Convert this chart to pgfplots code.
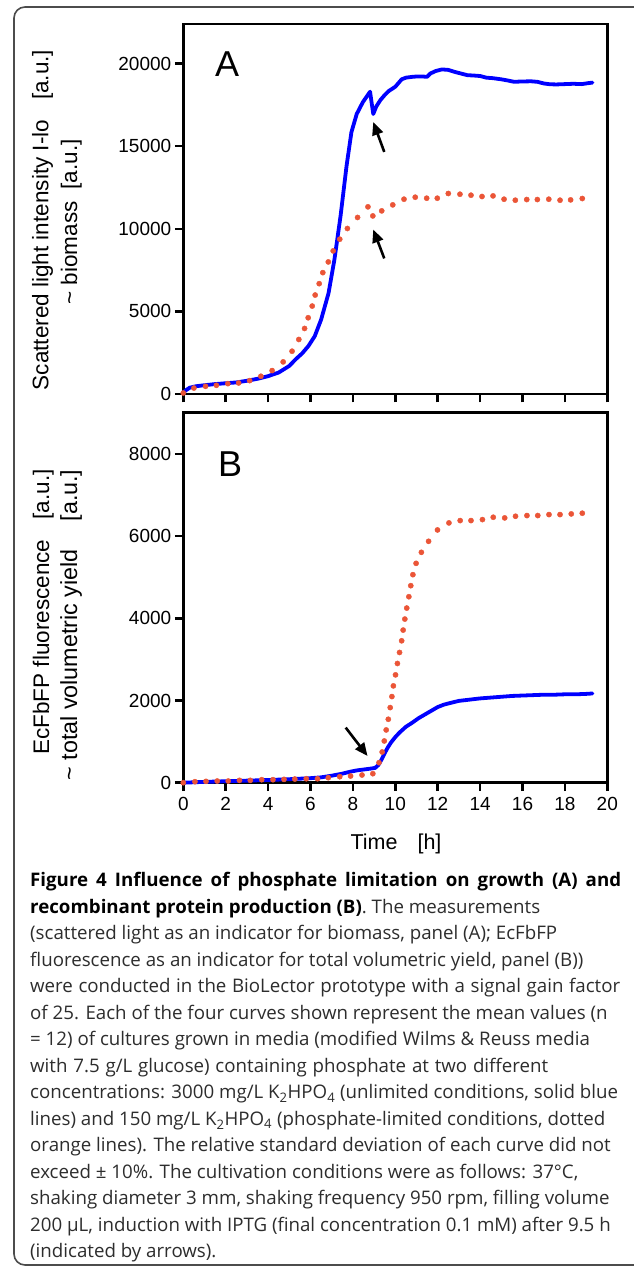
\documentclass[border=0pt]{standalone}
\usepackage{fontspec}
\setmainfont{Liberation Sans}
\newfontfamily\capfont{Open Sans}
\usepackage{pgfplots}
\pgfplotsset{compat=1.18}
\usetikzlibrary{arrows.meta}
\definecolor{bl}{RGB}{0,0,255}
\definecolor{orng}{RGB}{235,85,55}
\definecolor{captxt}{RGB}{45,45,45}

\tikzset{arr/.style={line width=2.6pt, -{Triangle[length=13pt,width=11pt]}}}
\pgfplotsset{
  myax/.style={
    anchor=south west, width=424pt, height=370pt, scale only axis,
    xmin=0, xmax=20, xtick={0,2,...,20},
    tick align=outside, tick pos=left, major tick length=8.5pt,
    axis line style={line width=2.5pt},
    every tick/.append style={line width=2.5pt, black},
    tick label style={font=\fontsize{19}{21}\selectfont},
    xticklabel style={yshift=-2.5pt},
    /pgf/number format/assume math mode=true,
    scaled y ticks=false,
    /pgf/number format/1000 sep={},
    clip=false,
  },
  blueline/.style={color=bl, line width=3.8pt, line join=round, line cap=round, no markers},
  orgdots/.style={only marks, mark=*, mark size=2.6pt, color=orng, mark options={draw=none, fill=orng}},
}

\begin{document}
\begin{tikzpicture}[x=1pt,y=1pt]
\path[use as bounding box] (0,0) rectangle (633,1269);
\fill[white] (0,0) rectangle (633,1269);
\draw[line width=1.6pt, black!70, rounded corners=11pt] (14,4) rectangle (690,1262);

% ---------------- Panel A ----------------
\begin{axis}[myax, at={(183.3pt,875pt)}, ymin=0, ymax=22400,
  ytick={0,5000,10000,15000,20000}, xticklabels={}]
\addplot[blueline] coordinates {
(0,100) (0.15,250) (0.3,380) (0.6,470) (1.0,530) (1.5,600) (2.0,650) (2.5,700)
(3.0,800) (3.5,920) (4.0,1080) (4.5,1300) (5.0,1700) (5.3,2100) (5.6,2450)
(5.9,2900) (6.2,3500) (6.5,4500) (6.85,6100) (7.13,8150) (7.42,10800)
(7.7,13800) (7.93,15850) (8.18,16950) (8.47,17670) (8.81,18300) (8.96,16950)
(9.1,17400) (9.3,17800) (9.5,18100) (9.7,18350) (10.0,18600) (10.3,19050)
(10.5,19150) (10.8,19200) (11.0,19220) (11.3,19220) (11.5,19200) (11.65,19400)
(11.9,19550) (12.2,19650) (12.5,19620) (12.8,19500) (13.1,19400) (13.4,19300)
(13.7,19280) (14.0,19250) (14.3,19150) (14.6,19120) (15.0,19050) (15.3,18980)
(15.6,18900) (16.0,18920) (16.4,18930) (16.7,18900) (17.0,18800) (17.3,18750)
(17.6,18740) (18.0,18760) (18.4,18780) (18.8,18760) (19.1,18820) (19.3,18850)
};
\addplot[orgdots] coordinates {
(0,60) (0.5,360) (1.05,465) (1.56,526) (2.1,627) (2.61,668) (3.13,810)
(3.66,1073) (4.19,1417) (4.71,1943) (5.13,2590) (5.45,3300) (5.72,3967)
(5.89,4615) (6.08,5323) (6.22,5991) (6.41,6679) (6.58,7347) (6.84,7995)
(7.07,8663) (7.38,9371) (7.74,10019) (8.22,10687) (8.71,11330) (8.94,10780)
(9.36,11086) (9.88,11449) (10.41,11793) (10.94,11914) (11.48,11853)
(11.98,11853) (12.5,12138) (13.05,12095) (13.57,12035) (14.09,11956)
(14.61,11993) (15.13,11793) (15.66,11732) (16.2,11772) (16.7,11772)
(17.24,11793) (17.77,11732) (18.27,11752) (18.82,11833)
};
\draw[arr] (axis cs:9.48,14654) -- (axis cs:8.96,16468);
\draw[arr] (axis cs:9.48,8207) -- (axis cs:8.96,9960);
\end{axis}

% ---------------- Panel B ----------------
\begin{axis}[myax, at={(183.3pt,486.3pt)}, ymin=0, ymax=9000,
  ytick={0,2000,4000,6000,8000}]
\addplot[blueline] coordinates {
(0,0) (1,20) (2,35) (3,50) (4,65) (5,85) (6,110) (6.5,130) (7,170) (7.5,220)
(7.9,270) (8.2,300) (8.5,320) (8.8,340) (9.05,360) (9.2,430) (9.35,560)
(9.5,720) (9.65,860) (9.8,980) (10.0,1110) (10.2,1220) (10.5,1360) (10.8,1460)
(11.1,1570) (11.4,1660) (11.7,1750) (12.0,1840) (12.3,1900) (12.6,1940)
(13.0,1990) (13.5,2020) (14.0,2050) (14.5,2070) (15.0,2090) (15.5,2110)
(16.0,2120) (16.5,2130) (17.0,2140) (17.5,2140) (18.0,2150) (18.5,2150)
(19.0,2160) (19.3,2170)
};
\addplot[orgdots] coordinates {
(0,0) (0.55,24) (1.07,32) (1.6,41) (2.12,41) (2.65,57) (3.16,57) (3.7,73)
(4.23,73) (4.75,81) (5.26,89) (5.8,97) (6.33,97) (6.84,122) (7.38,146)
(7.89,162) (8.43,187) (8.94,219) (9.23,487) (9.38,747) (9.48,1015) (9.57,1283)
(9.67,1543) (9.76,1827) (9.84,2095) (9.91,2355) (10.01,2623) (10.1,2900)
(10.2,3168) (10.3,3452) (10.37,3712) (10.45,3980) (10.54,4248) (10.64,4524)
(10.73,4792) (10.83,5060) (10.98,5336) (11.23,5604) (11.57,5872) (11.99,6148)
(12.53,6319) (13.06,6376) (13.57,6376) (14.11,6400) (14.62,6457) (15.16,6441)
(15.67,6481) (16.21,6498) (16.72,6498) (17.25,6522) (17.77,6522) (18.3,6538)
(18.82,6555)
};
\draw[arr] (axis cs:7.66,1340) -- (axis cs:8.69,650);
\end{axis}

% panel letters
\node[anchor=base west, inner sep=0, font=\fontsize{36}{40}\selectfont] at (215,1192.3) {A};
\node[anchor=base west, inner sep=0, font=\fontsize{36}{40}\selectfont] at (218,792) {B};

% y labels
\node[rotate=90, anchor=base, inner sep=0, font=\fontsize{22.5}{24}\selectfont] at (48.3,1049) {Scattered light intensity I-lo\hspace{20pt}[a.u.]};
\node[rotate=90, anchor=base, inner sep=0, font=\fontsize{22.5}{24}\selectfont] at (77,1047) {\textasciitilde\ biomass\hspace{12pt}[a.u.]};
\node[rotate=90, anchor=base, inner sep=0, font=\fontsize{22.5}{24}\selectfont] at (49,657) {EcFbFP fluorescence\hspace{20pt}[a.u.]};
\node[rotate=90, anchor=base, inner sep=0, font=\fontsize{23.3}{25}\selectfont] at (77,644) {\textasciitilde\ total volumetric yield\hspace{28pt}[a.u.]};

% x label
\node[anchor=base, inner sep=0, font=\fontsize{21.5}{24}\selectfont] at (396,419) {Time\hspace{20pt}[h]};

% caption
\begin{scope}[every node/.style={anchor=base west, inner sep=0, font=\capfont\fontsize{18.7}{22}\selectfont, text=captxt}]
\node at (30,382.0) {\makebox[591pt][s]{\bfseries\color{black}Figure 4 Influence of phosphate limitation on growth (A) and}};
\node at (30,355.5) {\textbf{\color{black}recombinant protein production (B)}. The measurements};
\node at (30,329.0) {\makebox[527pt][s]{(scattered light as an indicator for biomass, panel (A); EcFbFP}};
\node at (30,302.5) {fluorescence as an indicator for total volumetric yield, panel (B))};
\node at (30,276.0) {\makebox[590pt][s]{were conducted in the BioLector prototype with a signal gain factor}};
\node at (30,249.5) {of 25. Each of the four curves shown represent the mean values (n};
\node at (30,223.0) {= 12) of cultures grown in media (modified Wilms \& Reuss media};
\node at (30,196.5) {\makebox[518pt][s]{with 7.5 g/L glucose) containing phosphate at two different}};
\node at (30,170.0) {concentrations: 3000 mg/L K\textsubscript{2}HPO\textsubscript{4} (unlimited conditions, solid blue};
\node at (30,143.5) {lines) and 150 mg/L K\textsubscript{2}HPO\textsubscript{4} (phosphate-limited conditions, dotted};
\node at (30,117.0) {orange lines). The relative standard deviation of each curve did not};
\node at (30,90.5) {exceed ± 10\%. The cultivation conditions were as follows: 37°C,};
\node at (30,64.0) {shaking diameter 3 mm, shaking frequency 950 rpm, filling volume};
\node at (30,37.5) {200 µL, induction with IPTG (final concentration 0.1 mM) after 9.5 h};
\node at (30,11.0) {(indicated by arrows).};
\end{scope}
\end{tikzpicture}
\end{document}
